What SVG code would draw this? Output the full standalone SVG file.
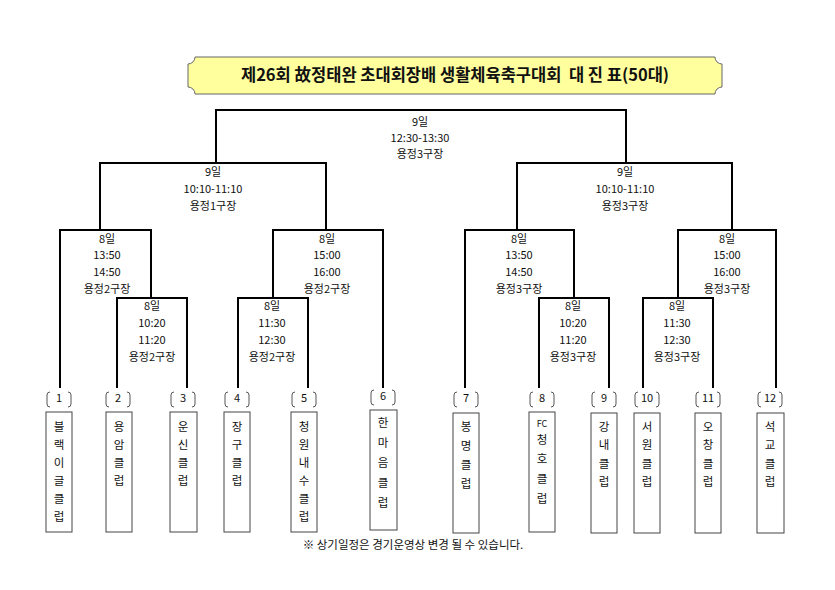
<svg xmlns="http://www.w3.org/2000/svg" width="835" height="590" viewBox="0 0 835 590">
<style>
text{font-family:"Noto Sans CJK KR","Noto Sans",sans-serif;fill:#111;}
.t{font-size:11px;text-anchor:middle;}
.title{font-size:16.5px;font-weight:bold;text-anchor:middle;white-space:pre;}
.ln{fill:none;stroke:#000;stroke-width:2;}
.box{fill:#fff;stroke:#444;stroke-width:1;}
.br{fill:none;stroke:#555;stroke-width:1;}
.tm{font-size:11.5px;text-anchor:middle;}
.num{font-size:11px;text-anchor:middle;}
</style>
<rect width="835" height="590" fill="#fff"/>
<g id="title">
<path d="M195,57 H715 A7,7 0 0 0 722,64 V87 A7,7 0 0 0 715,94 H195 A7,7 0 0 0 188,87 V64 A7,7 0 0 0 195,57 Z" fill="#FFFF9E" stroke="#666" stroke-width="1"/>
<text class="title" x="455" y="81" xml:space="preserve">제26회 故정태완 초대회장배 생활체육축구대회  대 진 표(50대)</text>
</g>
<g id="connectors">
<path class="ln" d="M216,163 V110 H626 V163"/>
<path class="ln" d="M100,230 V163 H326 V230"/>
<path class="ln" d="M517,230 V163 H732 V230"/>
<path class="ln" d="M60,388 V230 H151 V298"/>
<path class="ln" d="M117,388 V298 H187 V388"/>
<path class="ln" d="M383,388 V230 H273 V298"/>
<path class="ln" d="M238,388 V298 H308 V388"/>
<path class="ln" d="M465,388 V230 H574 V298"/>
<path class="ln" d="M539,388 V298 H609 V388"/>
<path class="ln" d="M776,388 V230 H678 V298"/>
<path class="ln" d="M643,388 V298 H713 V388"/>
</g>
<g id="m-final">
<text class="t" x="420" y="126">9일</text>
<text class="t" x="420" y="142">12:30-13:30</text>
<text class="t" x="420" y="158">용정3구장</text>
</g>
<g id="m-semi-left">
<text class="t" x="213" y="176">9일</text>
<text class="t" x="213" y="193">10:10-11:10</text>
<text class="t" x="213" y="210">용정1구장</text>
</g>
<g id="m-semi-right">
<text class="t" x="625" y="176">9일</text>
<text class="t" x="625" y="193">10:10-11:10</text>
<text class="t" x="625" y="210">용정3구장</text>
</g>
<g id="m-a1">
<text class="t" x="107" y="243">8일</text>
<text class="t" x="107" y="259">13:50</text>
<text class="t" x="107" y="276">14:50</text>
<text class="t" x="107" y="293">용정2구장</text>
</g>
<g id="m-a2">
<text class="t" x="152" y="310">8일</text>
<text class="t" x="152" y="327">10:20</text>
<text class="t" x="152" y="344">11:20</text>
<text class="t" x="152" y="361">용정2구장</text>
</g>
<g id="m-b1">
<text class="t" x="327" y="243">8일</text>
<text class="t" x="327" y="259">15:00</text>
<text class="t" x="327" y="276">16:00</text>
<text class="t" x="327" y="293">용정2구장</text>
</g>
<g id="m-b2">
<text class="t" x="272" y="310">8일</text>
<text class="t" x="272" y="327">11:30</text>
<text class="t" x="272" y="344">12:30</text>
<text class="t" x="272" y="361">용정2구장</text>
</g>
<g id="m-c1">
<text class="t" x="519" y="243">8일</text>
<text class="t" x="519" y="259">13:50</text>
<text class="t" x="519" y="276">14:50</text>
<text class="t" x="519" y="293">용정3구장</text>
</g>
<g id="m-c2">
<text class="t" x="573" y="310">8일</text>
<text class="t" x="573" y="327">10:20</text>
<text class="t" x="573" y="344">11:20</text>
<text class="t" x="573" y="361">용정3구장</text>
</g>
<g id="m-d1">
<text class="t" x="727" y="243">8일</text>
<text class="t" x="727" y="259">15:00</text>
<text class="t" x="727" y="276">16:00</text>
<text class="t" x="727" y="293">용정3구장</text>
</g>
<g id="m-d2">
<text class="t" x="677" y="310">8일</text>
<text class="t" x="677" y="327">11:30</text>
<text class="t" x="677" y="344">12:30</text>
<text class="t" x="677" y="361">용정3구장</text>
</g>
<defs>
<path id="brk" class="br" d="M-9,392 q-3,0 -3,3 v9 q0,3 3,3 M9,392 q3,0 3,3 v9 q0,3 -3,3"/>
</defs>
<g id="team1"><use href="#brk" x="59"/><text class="num" x="59" y="402">1</text><rect class="box" x="46" y="412" width="26" height="120"/>
<text class="tm"><tspan x="59" y="431">블</tspan><tspan x="59" dy="18">랙</tspan><tspan x="59" dy="18">이</tspan><tspan x="59" dy="18">글</tspan><tspan x="59" dy="18">클</tspan><tspan x="59" dy="18">럽</tspan></text></g>
<g id="team2"><use href="#brk" x="118"/><text class="num" x="118" y="402">2</text><rect class="box" x="106" y="412" width="26" height="120"/>
<text class="tm"><tspan x="119" y="431">용</tspan><tspan x="119" dy="18">암</tspan><tspan x="119" dy="18">클</tspan><tspan x="119" dy="18">럽</tspan></text></g>
<g id="team3"><use href="#brk" x="183"/><text class="num" x="183" y="402">3</text><rect class="box" x="170" y="412" width="27" height="120"/>
<text class="tm"><tspan x="183" y="431">운</tspan><tspan x="183" dy="18">신</tspan><tspan x="183" dy="18">클</tspan><tspan x="183" dy="18">럽</tspan></text></g>
<g id="team4"><use href="#brk" x="237"/><text class="num" x="237" y="402">4</text><rect class="box" x="224" y="412" width="26" height="120"/>
<text class="tm"><tspan x="237" y="431">장</tspan><tspan x="237" dy="18">구</tspan><tspan x="237" dy="18">클</tspan><tspan x="237" dy="18">럽</tspan></text></g>
<g id="team5"><use href="#brk" x="304"/><text class="num" x="304" y="402">5</text><rect class="box" x="291" y="412" width="26" height="120"/>
<text class="tm"><tspan x="304" y="431">청</tspan><tspan x="304" dy="18">원</tspan><tspan x="304" dy="18">내</tspan><tspan x="304" dy="18">수</tspan><tspan x="304" dy="18">클</tspan><tspan x="304" dy="18">럽</tspan></text></g>
<g id="team6"><use href="#brk" x="383" y="-2"/><text class="num" x="383" y="400">6</text><rect class="box" x="370" y="410" width="27" height="120"/>
<text class="tm"><tspan x="383" y="427">한</tspan><tspan x="383" dy="20">마</tspan><tspan x="383" dy="20">음</tspan><tspan x="383" dy="20">클</tspan><tspan x="383" dy="20">럽</tspan></text></g>
<g id="team7"><use href="#brk" x="466"/><text class="num" x="466" y="402">7</text><rect class="box" x="453" y="413" width="26" height="120"/>
<text class="tm"><tspan x="466" y="431">봉</tspan><tspan x="466" dy="19">명</tspan><tspan x="466" dy="19">클</tspan><tspan x="466" dy="19">럽</tspan></text></g>
<g id="team8"><use href="#brk" x="542"/><text class="num" x="542" y="402">8</text><rect class="box" x="529" y="412" width="26" height="120"/>
<text class="tm"><tspan x="542" y="427" font-size="9">FC</tspan><tspan x="542" dy="17">청</tspan><tspan x="542" dy="19">호</tspan><tspan x="542" dy="20">클</tspan><tspan x="542" dy="20">럽</tspan></text></g>
<g id="team9"><use href="#brk" x="604"/><text class="num" x="604" y="402">9</text><rect class="box" x="591" y="413" width="26" height="120"/>
<text class="tm"><tspan x="604" y="431">강</tspan><tspan x="604" dy="18">내</tspan><tspan x="604" dy="19">클</tspan><tspan x="604" dy="18">럽</tspan></text></g>
<g id="team10"><use href="#brk" x="647"/><text class="num" x="647" y="402">10</text><rect class="box" x="634" y="413" width="26" height="120"/>
<text class="tm"><tspan x="647" y="431">서</tspan><tspan x="647" dy="18">원</tspan><tspan x="647" dy="19">클</tspan><tspan x="647" dy="18">럽</tspan></text></g>
<g id="team11"><use href="#brk" x="708"/><text class="num" x="708" y="402">11</text><rect class="box" x="695" y="413" width="26" height="120"/>
<text class="tm"><tspan x="708" y="431">오</tspan><tspan x="708" dy="18">창</tspan><tspan x="708" dy="19">클</tspan><tspan x="708" dy="18">럽</tspan></text></g>
<g id="team12"><use href="#brk" x="770"/><text class="num" x="770" y="402">12</text><rect class="box" x="757" y="413" width="27" height="120"/>
<text class="tm"><tspan x="770" y="431">석</tspan><tspan x="770" dy="18">교</tspan><tspan x="770" dy="19">클</tspan><tspan x="770" dy="18">럽</tspan></text></g>
<g id="note">
<text x="413" y="549" font-size="11.5" text-anchor="middle" fill="#333">※ 상기일정은 경기운영상 변경 될 수 있습니다.</text>
</g>
</svg>
